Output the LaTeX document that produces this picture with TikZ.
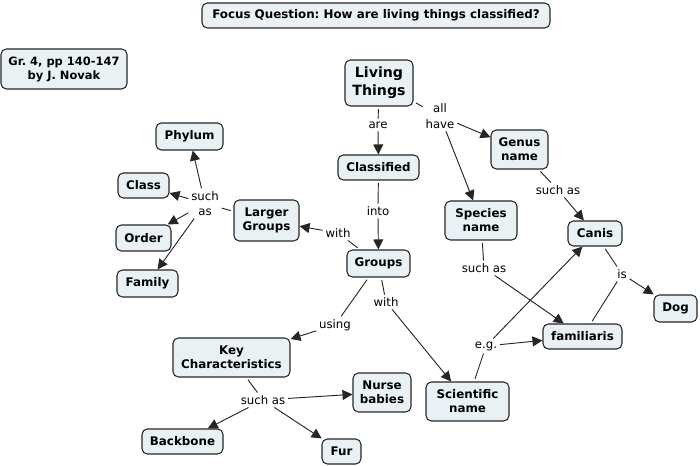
\documentclass[tikz,border=0pt]{standalone}
\usepackage{fontspec}
\setmainfont{DejaVu Sans}
\usetikzlibrary{arrows.meta}
\definecolor{boxfill}{RGB}{234,241,244}
\frenchspacing
\begin{document}
\begin{tikzpicture}[x=0.75pt,y=-0.75pt,
  box/.style={draw=black!85, line width=0.8pt, fill=boxfill, rounded corners=4pt, align=center, font=\bfseries\fontsize{8.9}{10.5}\selectfont, inner sep=1pt},
  sz/.style 2 args={minimum width=#1*0.75pt, minimum height=#2*0.75pt},
  lbl/.style={align=center, font=\fontsize{8.8}{11.5}\selectfont, inner sep=2pt},
  con/.style={draw=black!85, line width=0.7pt, shorten <=2pt},
  arr/.style={draw=black!85, line width=0.7pt, -{Triangle[length=7.5pt,width=7.5pt]}}
]
\useasboundingbox (0,0) rectangle (700,466);

\node[box,sz={348}{25},font=\bfseries\fontsize{8.9}{10.5}\selectfont] (fq) at (376,15.5) {Focus Question: How are living things classified?};
\node[box,sz={126}{40},font=\bfseries\fontsize{8.6}{10.5}\selectfont] (gr) at (64,69) {Gr. 4, pp 140-147\\by J. Novak};
\node[box,sz={68}{46},font=\bfseries\fontsize{10.6}{13.5}\selectfont] (lt) at (379,83) {Living\\Things};
\node[box,sz={81}{25}] (cl) at (378.5,167.5) {Classified};
\node[box,sz={63}{27}] (gp) at (378.5,263.5) {Groups};
\node[box,sz={65}{41}] (lg) at (266.5,220.5) {Larger\\Groups};
\node[box,sz={67}{27}] (ph) at (189.5,136.5) {Phylum};
\node[box,sz={51}{25}] (cs) at (143.5,185.5) {Class};
\node[box,sz={55}{26}] (or) at (143.5,238) {Order};
\node[box,sz={61}{27}] (fa) at (147.5,283.5) {Family};
\node[box,sz={57}{39}] (gn) at (519.5,149.5) {Genus\\name};
\node[box,sz={72}{39}] (sn) at (481,220.5) {Species\\name};
\node[box,sz={54}{25}] (ca) at (595,233.5) {Canis};
\node[box,sz={43}{27}] (dg) at (675.5,308.5) {Dog};
\node[box,sz={79}{25}] (fm) at (582.5,336.5) {familiaris};
\node[box,sz={117}{39}] (kc) at (231.5,357.5) {Key\\Characteristics};
\node[box,sz={83}{39}] (sc) at (467.5,401.5) {Scientific\\name};
\node[box,sz={58}{39}] (nb) at (382,392.5) {Nurse\\babies};
\node[box,sz={81}{25}] (bb) at (182.5,441.5) {Backbone};
\node[box,sz={39}{25}] (fu) at (341.5,451.5) {Fur};

\node[lbl] (l1) at (378,125) {are};
\node[lbl] (l2) at (378,211) {into};
\node[lbl] (l3) at (440,116) {all\\have};
\node[lbl] (l4) at (338,233) {with};
\node[lbl] (l5) at (205,203.5) {such\\as};
\node[lbl] (l6) at (558,190) {such as};
\node[lbl] (l7) at (484,268) {such as};
\node[lbl] (l8) at (622,274) {is};
\node[lbl] (l9) at (486,346) {e.g.};
\node[lbl] (l10) at (386,302) {with};
\node[lbl] (l11) at (335,325) {using};
\node[lbl] (l12) at (263,400) {such as};

\draw[con] (lt) -- (l1); \draw[arr] (l1) -- (cl);
\draw[con] (cl) -- (l2); \draw[arr] (l2) -- (gp);
\draw[con] (lt) -- (l3); \draw[arr] (l3) -- (gn); \draw[arr] (l3) -- (sn);
\draw[con] (gp) -- (l4); \draw[arr] (l4) -- (lg);
\draw[con] (lg) -- (l5);
\draw[arr] (l5) -- (ph); \draw[arr] (l5) -- (cs); \draw[arr] (l5) -- (or); \draw[arr] (l5) -- (fa);
\draw[con] (gn) -- (l6); \draw[arr] (l6) -- (ca);
\draw[con] (sn) -- (l7); \draw[arr] (l7) -- (fm);
\draw[con] (ca) -- (l8); \draw[con] (fm) -- (l8); \draw[arr] (l8) -- (dg);
\draw[con] (sc) -- (l9); \draw[arr] (l9) -- (fm); \draw[arr] (l9) -- (ca);
\draw[con] (gp) -- (l10); \draw[arr] (l10) -- (sc);
\draw[con] (gp) -- (l11); \draw[arr] (l11) -- (kc);
\draw[con] (kc) -- (l12);
\draw[arr] (l12) -- (nb); \draw[arr] (l12) -- (bb); \draw[arr] (l12) -- (fu);
\end{tikzpicture}
\end{document}
